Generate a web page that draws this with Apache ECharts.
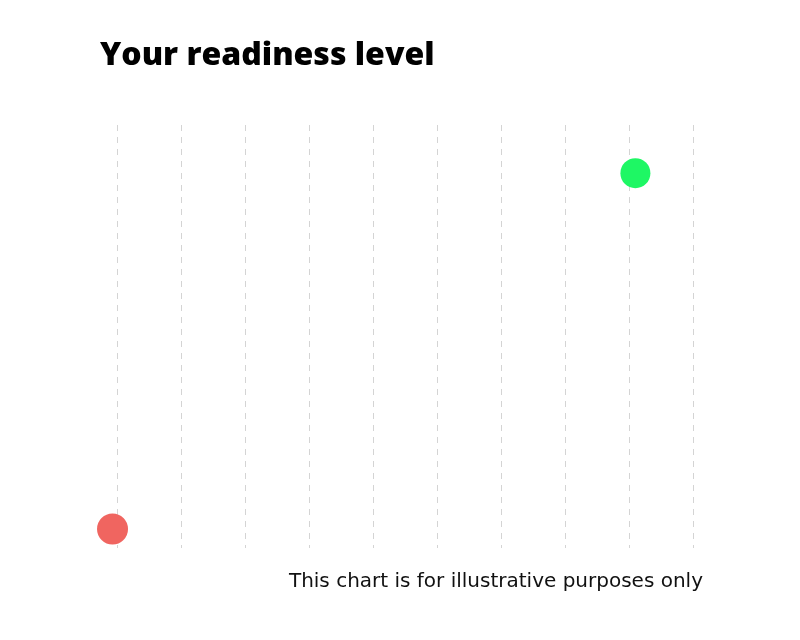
<!DOCTYPE html>
<html>
<head>
<meta charset="utf-8">
<script src="https://cdn.jsdelivr.net/npm/echarts@6/dist/echarts.min.js"></script>
<style>
  html, body { margin: 0; padding: 0; background: #fff; }
  #main { width: 800px; height: 640px; }
</style>
</head>
<body>
<div id="main"></div>
<script>
// readiness scale: 0 .. 9 columns, level 0 .. 100
var xTicks = [0, 1, 2, 3, 4, 5, 6, 7, 8, 9];
var lowPoint = [-0.07, 4.5];
var highPoint = [8.1, 88.6];

var myChart = echarts.init(document.getElementById('main'));

var option = {
    backgroundColor: '#fff',
    title: [{
        text: 'Your readiness level',
        left: 95,
        top: 35,
        textStyle: {
            fontFamily: 'Open Sans',
            fontWeight: 800,
            fontSize: 32,
            color: '#000'
        }
    }, {
        text: 'This chart is for illustrative purposes only',
        right: 92,
        top: 567,
        textStyle: {
            fontFamily: 'DejaVu Sans',
            fontWeight: 'normal',
            fontSize: 20,
            color: '#111'
        }
    }],
    grid: {
        left: 117,
        right: 107,
        top: 125,
        bottom: 92
    },
    xAxis: {
        type: 'value',
        min: xTicks[0],
        max: xTicks[xTicks.length - 1],
        interval: 1,
        axisLine: { show: false },
        axisTick: { show: false },
        axisLabel: { show: false },
        splitLine: {
            show: true,
            lineStyle: {
                color: '#d4d4d4',
                type: [6, 6],
                width: 1
            }
        }
    },
    yAxis: {
        type: 'value',
        min: 0,
        max: 100,
        show: false,
        splitLine: { show: false }
    },
    series: [{
        type: 'scatter',
        clip: false,
        symbolSize: 31,
        itemStyle: { color: '#f06560', opacity: 1 },
        data: [lowPoint]
    }, {
        type: 'scatter',
        clip: false,
        symbolSize: 30,
        itemStyle: { color: '#1ef764', opacity: 1 },
        data: [highPoint]
    }]
};
myChart.setOption(option);
</script>
</body>
</html>
